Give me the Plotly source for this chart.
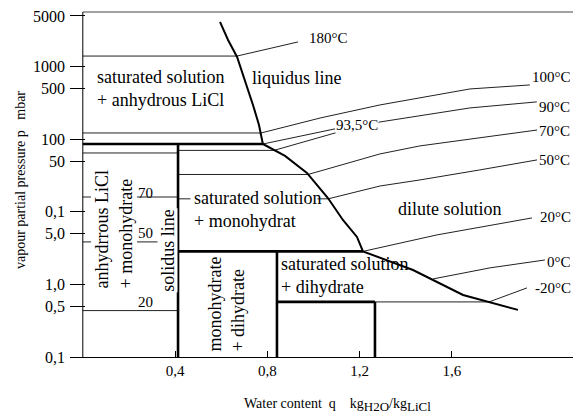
import math
import plotly.graph_objects as go

# ---------------- data ----------------
x_tick_values = [0.4, 0.8, 1.2, 1.6]
x_tick_labels = ["0,4", "0,8", "1,2", "1,6"]
y_tick_values = [0.1, 0.5, 1, 5, 10, 50, 100, 500, 1000, 5000]
y_tick_labels = ["0,1", "0,5", "1,0", "5,0", "0,1", "50", "100", "500", "1000", "5000"]

# liquidus line  (water content q, vapour pressure p [mbar])
liquidus_q = [0.595, 0.630, 0.669, 0.703, 0.738, 0.764, 0.781, 0.877, 0.972,
              1.063, 1.128, 1.189, 1.215, 1.432, 1.649, 1.887]
liquidus_p = [4130, 2330, 1360, 656, 297, 157, 86, 58.9, 34.4,
              15.5, 7.73, 4.51, 2.85, 1.58, 0.716, 0.446]

# phase boundaries (thick lines), None separates segments
boundary_q = [0, 0.781, None, 0.413, 0.413, None, 0.413, 1.215, None,
              0.842, 0.842, None, 0.842, 1.267, None, 1.267, 1.267]
boundary_p = [86, 86, None, 0.1, 86, None, 2.85, 2.85, None,
              0.1, 2.85, None, 0.574, 0.574, None, 0.1, 0.574]

# isotherms
iso180_q = [0, 0.669, 0.933]
iso180_p = [1400, 1400, 2190]
iso100_q = [0, 0.773, 1.029, 1.289, 1.679, 1.939]
iso100_p = [122, 122, 196, 297, 493, 560]
iso935_q = [0.781, 1.094]
iso935_p = [86, 139]
iso90_q = [0, 0.413, 0.413, 0.829, 1.094, 1.289, 1.679, 1.969]
iso90_p = [64.7, 64.7, 70.2, 70.2, 122, 173, 270, 327]
iso70_q = [0, 0.413, 0.413, 0.977, 1.289, 1.462, 1.970]
iso70_p = [16.0, 16.0, 32.7, 32.7, 62.8, 80.9, 134]
iso50_q = [0, 0.413, 0.413, 1.064, 1.289, 1.462, 1.722, 1.970]
iso50_p = [3.85, 3.85, 15.1, 15.1, 22.7, 27.5, 37.8, 51.9]
iso20_q = [0, 0.413, None, 1.215, 1.536, 1.948]
iso20_p = [0.436, 0.436, None, 2.85, 4.81, 8.24]
iso0_q = [1.519, 1.766, 2.004]
iso0_p = [1.19, 1.69, 2.17]
isom20_q = [0.842, 1.762, 1.926]
isom20_p = [0.574, 0.574, 0.895]

# ---------------- figure ----------------
FONT = "Liberation Serif"
fig = go.Figure()

def add_line(q, p, width, color="black"):
    fig.add_trace(go.Scatter(x=q, y=p, mode="lines", hoverinfo="skip",
                             line=dict(color=color, width=width),
                             connectgaps=False, showlegend=False))

for q, p in [(iso180_q, iso180_p), (iso100_q, iso100_p), (iso935_q, iso935_p),
             (iso90_q, iso90_p), (iso70_q, iso70_p), (iso50_q, iso50_p),
             (iso20_q, iso20_p), (iso0_q, iso0_p), (isom20_q, isom20_p)]:
    add_line(q, p, 1, "#222")

add_line(boundary_q, boundary_p, 2.6)
add_line(liquidus_q, liquidus_p, 2)

L = math.log10
ann = []

def txt(x, y, text, size=18, xanchor="center", align="left", angle=0, bg=None,
        pad=1, height=None, width=None):
    a = dict(x=x, y=y, xref="x", yref="y", text=text, showarrow=False,
             xanchor=xanchor, yanchor="middle", align=align, textangle=angle,
             font=dict(family=FONT, size=size, color="black"), borderpad=pad)
    if bg:
        a["bgcolor"] = bg
    if height:
        a["height"] = height
    if width:
        a["width"] = width
    ann.append(a)

# white mask behind the "saturated solution + monohydrat" text (hides isotherm)
txt(0.465, L(15.1), " ", 10, "left", bg="white", pad=0, height=10, width=126)

# region labels
txt(0.053, L(493), "saturated solution<br>+ anhydrous LiCl", xanchor="left")
txt(0.929, L(698), "liquidus line")
txt(1.592, L(11.0), "dilute solution")
txt(0.474, L(10.6), "saturated solution<br>+ monohydrat", xanchor="left")
txt(0.851, L(1.31), "saturated solution<br>+ dihydrate", xanchor="left")
txt(0.133, L(5.8), "anhydrrous LiCl<br>+ monohydrate", angle=-90, bg="white", pad=1)
txt(0.369, L(2.99), "solidus line", angle=-90, bg="white", pad=0, height=19)
txt(0.622, L(0.531), "monohydrate<br>+ dihydrate", angle=-90)

# isotherm labels
txt(0.972, L(2480), "180°C", 15, "left")
txt(1.941, L(721), "100°C", 15, "left")
txt(1.970, L(279), "90°C", 15, "left")
txt(1.094, L(157), "93,5°C", 15, "left", bg="white", pad=0)
txt(1.970, L(131), "70°C", 15, "left")
txt(1.970, L(51.9), "50°C", 15, "left")
txt(1.974, L(8.6), "20°C", 15, "left")
txt(2.004, L(2.06), "0°C", 15, "left")
txt(1.952, L(0.895), "-20°C", 15, "left")
txt(0.270, L(18.2), "70", 15)
txt(0.274, L(5.12), "50", 15)
txt(0.270, L(0.574), "20", 15)

# axis titles
ann.append(dict(x=-0.0994, y=0.513, xref="paper", yref="paper", showarrow=False,
                text="vapour partial pressure p\u00a0\u00a0\u00a0mbar", textangle=-90,
                xanchor="center", yanchor="middle",
                font=dict(family=FONT, size=14, color="black")))
sub = "<sub><span style='font-size:13px'>%s</span></sub>"
ann.append(dict(x=0.531, y=-0.139, xref="paper", yref="paper", showarrow=False,
                text="Water content\u00a0\u00a0q\u00a0\u00a0\u00a0\u00a0kg" + sub % "H2O"
                     + "/kg" + sub % "LiCl",
                xanchor="center", yanchor="middle",
                font=dict(family=FONT, size=14, color="black")))

fig.update_layout(
    width=573, height=420,
    margin=dict(l=70, r=0, t=12, b=63),
    paper_bgcolor="white", plot_bgcolor="white",
    showlegend=False,
    annotations=ann,
    shapes=[
        dict(type="line", xref="x", yref="paper", x0=0, x1=0, y0=0, y1=1,
             line=dict(color="black", width=1)),
        dict(type="line", xref="x", yref="paper", x0=0, x1=2.1258, y0=1, y1=1,
             line=dict(color="#444", width=1)),
    ],
    xaxis=dict(range=[-0.0555, 2.1258], tickvals=x_tick_values, ticktext=x_tick_labels,
               ticks="inside", ticklen=6, tickcolor="black", showline=True,
               linecolor="black", linewidth=1, showgrid=False, zeroline=False,
               tickfont=dict(family=FONT, size=15, color="black")),
    yaxis=dict(type="log", range=[-1, 3.753], tickvals=y_tick_values, ticktext=y_tick_labels,
               ticks="inside", ticklen=15, tickcolor="black", showline=False,
               showgrid=False, zeroline=False, ticklabelstandoff=4,
               tickfont=dict(family=FONT, size=16, color="black")),
)

fig.write_html("out.html")
